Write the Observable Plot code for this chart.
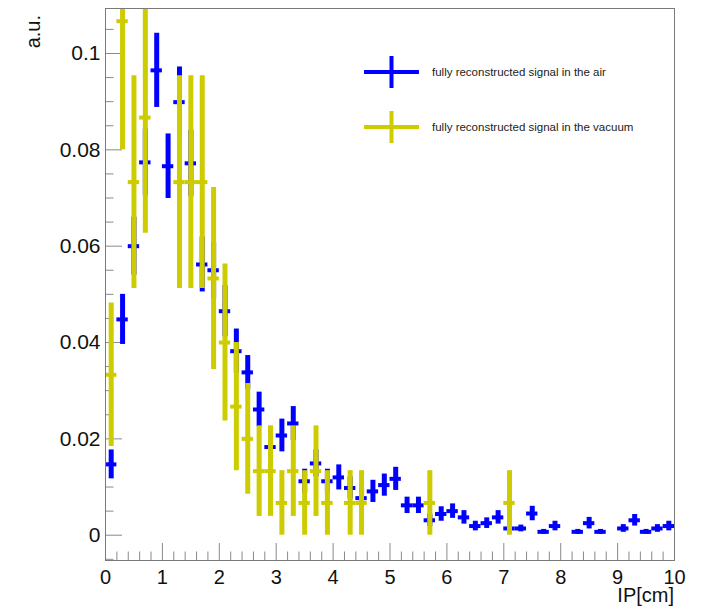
<!DOCTYPE html>
<html>
<head>
<meta charset="utf-8">
<script src="https://cdn.jsdelivr.net/npm/d3@7"></script>
<script src="https://cdn.jsdelivr.net/npm/@observablehq/plot@0.6"></script>
<style>
  html, body { margin: 0; padding: 0; background: #fff; }
  #chart { width: 702px; height: 612px; }
</style>
</head>
<body>
<div id="chart"></div>
<script>
// ---- data ----
const airX   = [0.1,0.3,0.5,0.7,0.9,1.1,1.3,1.5,1.7,1.9,2.1,2.3,2.5,2.7,2.9,3.1,3.3,3.5,3.7,3.9,4.1,4.3,4.5,4.7,4.9,5.1,5.3,5.5,5.7,5.9,6.1,6.3,6.5,6.7,6.9,7.1,7.3,7.5,7.7,7.9,8.3,8.5,8.7,9.1,9.3,9.5,9.7,9.9];
const airY   = [0.0147,0.0448,0.0600,0.0774,0.0965,0.0766,0.0899,0.0772,0.0562,0.0550,0.0465,0.0382,0.0338,0.0261,0.0183,0.0207,0.0232,0.0112,0.0149,0.0112,0.0120,0.0098,0.0077,0.0091,0.0104,0.0117,0.0062,0.0062,0.0031,0.0044,0.0050,0.0037,0.0019,0.0025,0.0037,0.0014,0.0014,0.0045,0.0007,0.0019,0.0007,0.0025,0.0007,0.0014,0.0031,0.0007,0.0014,0.0019];
const airErr = [0.0030,0.0052,0.0060,0.0069,0.0077,0.0067,0.0073,0.0069,0.0057,0.0058,0.0053,0.0046,0.0035,0.0036,0.0030,0.0034,0.0035,0.0025,0.0028,0.0025,0.0026,0.0023,0.0020,0.0023,0.0023,0.0024,0.0017,0.0017,0.0013,0.0015,0.0015,0.0014,0.0010,0.0011,0.0014,0.0007,0.0007,0.0015,0.0005,0.0010,0.0005,0.0012,0.0005,0.0008,0.0012,0.0005,0.0008,0.0010];

const vacX   = [0.1,0.3,0.5,0.7,1.3,1.5,1.7,1.9,2.1,2.3,2.5,2.7,2.9,3.1,3.3,3.5,3.7,3.9,4.3,4.5,5.7,7.1];
const vacY   = [0.0333,0.1067,0.0733,0.0867,0.0733,0.0733,0.0733,0.0533,0.0400,0.0267,0.0200,0.0133,0.0133,0.0067,0.0133,0.0067,0.0133,0.0067,0.0067,0.0067,0.0067,0.0067];
const vacErr = [0.0149,0.0267,0.0221,0.0240,0.0221,0.0221,0.0221,0.0189,0.0163,0.0133,0.0115,0.0094,0.0094,0.0067,0.0094,0.0067,0.0094,0.0067,0.0067,0.0067,0.0067,0.0067];

const binHalfWidth = 0.1;

const xTickValues = [0,1,2,3,4,5,6,7,8,9,10];
const xTickLabels = ["0","1","2","3","4","5","6","7","8","9","10"];
const yTickValues = [0,0.02,0.04,0.06,0.08,0.1];
const yTickLabels = ["0","0.02","0.04","0.06","0.08","0.1"];

const seriesNames = ["fully reconstructed signal in the air", "fully reconstructed signal in the vacuum"];
const seriesColors = ["#0000ff", "#cccc00"];
const xTitle = "IP[cm]";
const yTitle = "a.u.";

// ---- build tables ----
const air = airX.map((x, i) => ({x, y: airY[i], e: airErr[i]}));
const vac = vacX.map((x, i) => ({x, y: vacY[i], e: vacErr[i]}));

const xMinor = d3.range(0, 10.0001, 0.2).map(v => +v.toFixed(3)).filter(v => Math.abs(v - Math.round(v)) > 1e-6);
const yMinor = d3.range(-0.005, 0.1080, 0.005).map(v => +v.toFixed(4)).filter(v => Math.abs(v / 0.02 - Math.round(v / 0.02)) > 1e-6);

const W = 702, H = 612;
const mL = 105, mR = 28, mT = 8, mB = 52;
const innerW = W - mL - mR, innerH = H - mT - mB;
const majorLen = 17, minorLen = 8.5;
const tickColor = "#8a8a8a";

function errorMarks(data, color) {
  return [
    Plot.ruleX(data, {x: "x", y1: d => d.y - d.e, y2: d => d.y + d.e, stroke: color, strokeWidth: 5, clip: true}),
    Plot.ruleY(data, {y: "y", x1: d => d.x - binHalfWidth, x2: d => d.x + binHalfWidth, stroke: color, strokeWidth: 4, clip: true})
  ];
}

const chart = Plot.plot({
  width: W, height: H,
  marginLeft: mL, marginRight: mR, marginTop: mT, marginBottom: mB,
  style: {fontFamily: "'Liberation Sans', Arial, Helvetica, sans-serif", background: "#fff", color: "#111"},
  x: {domain: [0, 10]},
  y: {domain: [-0.00525, 0.10934]},
  marks: [
    Plot.tickX(xTickValues, {x: d => d, insetTop: innerH - majorLen, stroke: tickColor, strokeWidth: 1}),
    Plot.tickX(xMinor, {x: d => d, insetTop: innerH - minorLen, stroke: tickColor, strokeWidth: 1}),
    Plot.tickY(yTickValues, {y: d => d, insetRight: innerW - majorLen, stroke: tickColor, strokeWidth: 1}),
    Plot.tickY(yMinor, {y: d => d, insetRight: innerW - minorLen, stroke: tickColor, strokeWidth: 1}),
    Plot.axisX(xTickValues, {tickSize: 0, tickPadding: 9, fontSize: 20, label: null, tickFormat: (d) => xTickLabels[xTickValues.indexOf(d)], fill: "#111"}),
    Plot.axisY(yTickValues, {tickSize: 0, tickPadding: 5, fontSize: 21, label: null, tickFormat: (d) => yTickLabels[yTickValues.indexOf(d)], fill: "#111"}),
    ...errorMarks(air, seriesColors[0]),
    ...errorMarks(vac, seriesColors[1]),
    Plot.frame({stroke: "#7a7a7a", strokeWidth: 1})
  ]
});

document.getElementById("chart").appendChild(chart);

// ---- titles and legend ----
const svg = d3.select(chart);
svg.append("text")
  .attr("x", W - mR).attr("y", 602)
  .attr("text-anchor", "end")
  .attr("font-size", 20)
  .attr("fill", "#111")
  .text(xTitle);
svg.append("text")
  .attr("transform", "translate(40,15) rotate(-90)")
  .attr("text-anchor", "end")
  .attr("font-size", 20)
  .attr("fill", "#111")
  .text(yTitle);

const legendRows = [72, 127];
const leg = svg.append("g");
seriesNames.forEach((name, i) => {
  const cy = legendRows[i];
  leg.append("line").attr("x1", 364).attr("x2", 419).attr("y1", cy).attr("y2", cy)
    .attr("stroke", seriesColors[i]).attr("stroke-width", 4);
  leg.append("line").attr("x1", 391.5).attr("x2", 391.5).attr("y1", cy - 16).attr("y2", cy + 16)
    .attr("stroke", seriesColors[i]).attr("stroke-width", 4);
  leg.append("text").attr("x", 432).attr("y", cy).attr("dy", "0.35em")
    .attr("text-anchor", "start")
    .attr("font-size", 11.5).attr("fill", "#222").text(name);
});
</script>
</body>
</html>
